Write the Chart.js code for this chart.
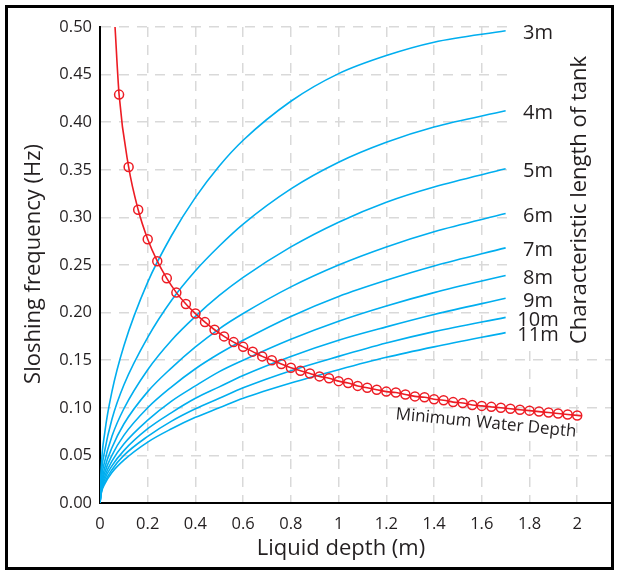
<!DOCTYPE html>
<html><head><meta charset="utf-8">
<script src="https://cdn.jsdelivr.net/npm/chart.js@4"></script>
<style>
html,body{margin:0;padding:0;background:#fff;}
#wrap{position:relative;width:618px;height:573px;overflow:hidden;}
#frame{position:absolute;left:5px;top:5px;width:603px;height:559px;border:3px solid #000;pointer-events:none;}
canvas{position:absolute;left:0;top:0;}
</style></head><body>
<div id="wrap"><canvas id="c" width="618" height="573"></canvas><div id="frame"></div></div>
<script>
// ---- data ----
const depth = [0, 0.005, 0.02, 0.05, 0.1, 0.2, 0.3, 0.4, 0.5, 0.6, 0.8, 1.0, 1.2, 1.4, 1.7];
const f3m  = [0, 0.037, 0.074, 0.117, 0.165, 0.232, 0.281, 0.321, 0.354, 0.381, 0.422, 0.451, 0.470, 0.484, 0.496];
const f4m  = [0, 0.028, 0.055, 0.088, 0.124, 0.174, 0.213, 0.244, 0.270, 0.293, 0.330, 0.358, 0.379, 0.395, 0.412];
const f5m  = [0, 0.022, 0.044, 0.070, 0.099, 0.140, 0.171, 0.196, 0.218, 0.237, 0.269, 0.295, 0.316, 0.332, 0.351];
const f6m  = [0, 0.018, 0.037, 0.058, 0.083, 0.117, 0.142, 0.164, 0.183, 0.199, 0.227, 0.250, 0.269, 0.285, 0.304];
const f7m  = [0, 0.016, 0.032, 0.050, 0.071, 0.100, 0.122, 0.141, 0.157, 0.171, 0.196, 0.217, 0.234, 0.249, 0.268];
const f8m  = [0, 0.014, 0.028, 0.044, 0.062, 0.087, 0.107, 0.123, 0.138, 0.150, 0.172, 0.191, 0.207, 0.221, 0.239];
const f9m  = [0, 0.012, 0.025, 0.039, 0.055, 0.078, 0.095, 0.110, 0.122, 0.134, 0.154, 0.171, 0.185, 0.198, 0.215];
const f10m = [0, 0.011, 0.022, 0.035, 0.050, 0.070, 0.086, 0.099, 0.110, 0.121, 0.139, 0.154, 0.168, 0.180, 0.195];
const f11m = [0, 0.010, 0.020, 0.032, 0.045, 0.064, 0.078, 0.090, 0.100, 0.110, 0.126, 0.140, 0.153, 0.164, 0.179];
const lengthLabels = ['3m','4m','5m','6m','7m','8m','9m','10m','11m'];
const lengthSeries = [f3m, f4m, f5m, f6m, f7m, f8m, f9m, f10m, f11m];

const minDepth = [0.063,0.08,0.12,0.16,0.20,0.24,0.28,0.32,0.36,0.40,0.44,0.48,0.52,0.56,0.60,0.64,0.68,0.72,0.76,0.80,0.84,0.88,0.92,0.96,1.00,1.04,1.08,1.12,1.16,1.20,1.24,1.28,1.32,1.36,1.40,1.44,1.48,1.52,1.56,1.60,1.64,1.68,1.72,1.76,1.80,1.84,1.88,1.92,1.96,2.00,2.02];
const minFreq  = [0.500,0.429,0.353,0.308,0.277,0.254,0.236,0.221,0.209,0.199,0.190,0.182,0.175,0.169,0.164,0.159,0.154,0.150,0.146,0.142,0.139,0.136,0.133,0.131,0.128,0.126,0.123,0.121,0.119,0.117,0.116,0.114,0.112,0.111,0.109,0.108,0.106,0.105,0.103,0.102,0.101,0.100,0.099,0.098,0.097,0.096,0.095,0.094,0.093,0.092,0.0915];
const minLabel = 'Minimum Water Depth';

const xTickValues = [0,0.2,0.4,0.6,0.8,1,1.2,1.4,1.6,1.8,2];
const xTickLabels = ['0','0.2','0.4','0.6','0.8','1','1.2','1.4','1.6','1.8','2'];
const yTickValues = [0,0.05,0.1,0.15,0.2,0.25,0.3,0.35,0.4,0.45,0.5];
const yTickLabels = ['0.00','0.05','0.10','0.15','0.20','0.25','0.30','0.35','0.40','0.45','0.50'];
const xTitle = 'Liquid depth (m)';
const yTitle = 'Sloshing frequency (Hz)';
const rightTitle = 'Characteristic length of tank';

// ---- styling ----
const BLUE = '#00aeef', RED = '#ed1c24', INK = '#231f20', GRID = '#d9d9d9';
const FONT = '"Open Sans", "Noto Sans", sans-serif';

const datasets = [{
  label: minLabel,
  data: minDepth.map((h,i)=>({x:h, y:minFreq[i]})),
  borderColor: RED, borderWidth: 1.6,
  pointRadius: minDepth.map((h,i)=> (i===0 || i===minDepth.length-1) ? 0 : 4.5),
  pointBorderColor: RED, pointBorderWidth: 1.5, pointBackgroundColor: 'rgba(0,0,0,0)',
  cubicInterpolationMode: 'monotone', fill: false
}];
lengthSeries.forEach((s, k) => datasets.push({
  label: lengthLabels[k],
  data: depth.map((h,i)=>({x:h, y:s[i]})),
  borderColor: BLUE, borderWidth: 1.6, pointRadius: 0,
  cubicInterpolationMode: 'monotone', fill: false
}));

const textPlugin = {
  id: 'texts',
  beforeDatasetsDraw(chart) {
    const {ctx, chartArea} = chart;
    ctx.save();
    ctx.fillStyle = '#fff';
    ctx.fillRect(509, chartArea.top - 3, chartArea.right - 509 + 2, 350 - chartArea.top + 3);
    ctx.restore();
  },
  afterDraw(chart) {
    const {ctx} = chart;
    const xs = chart.scales.x, ys = chart.scales.y;
    ctx.save();
    ctx.fillStyle = INK;
    // curve labels
    ctx.font = '20px ' + FONT;
    ctx.textAlign = 'center';
    ctx.textBaseline = 'alphabetic';
    lengthSeries.forEach((s, k) => {
      const y = ys.getPixelForValue(s[s.length-1]);
      ctx.fillText(lengthLabels[k], 538, y + 8.5);
    });
    // x title
    ctx.font = '22px ' + FONT;
    ctx.textBaseline = 'middle';
    ctx.fillText(xTitle, 341, 549);
    // y title
    ctx.save();
    ctx.translate(34, 264);
    ctx.rotate(-Math.PI/2);
    ctx.fillText(yTitle, 0, 0);
    ctx.restore();
    // right title
    ctx.save();
    ctx.translate(580, 200);
    ctx.rotate(-Math.PI/2);
    ctx.fillText(rightTitle, 0, 0);
    ctx.restore();
    // minimum water depth label
    ctx.save();
    ctx.font = '17px ' + FONT;
    ctx.translate(485.5, 428);
    ctx.rotate(0.097);
    ctx.textBaseline = 'alphabetic';
    ctx.fillText(minLabel, 0, 0);
    ctx.restore();
    ctx.restore();
  }
};

new Chart(document.getElementById('c'), {
  type: 'line',
  data: { datasets },
  options: {
    responsive: false, animation: false, devicePixelRatio: 1,
    layout: { padding: { left: 0, right: 5, top: 27, bottom: 0 } },
    plugins: { legend: { display: false }, tooltip: { enabled: false }, title: { display: false } },
    scales: {
      x: {
        type: 'linear', min: 0, max: 2.15,
        afterFit: s => { s.height = 70; },
        afterBuildTicks: s => { s.ticks = xTickValues.map(v => ({value: v})); },
        ticks: { includeBounds: false, padding: 11, color: INK, font: { family: FONT, size: 16.5 },
                 maxRotation: 0, autoSkip: false, callback: (v, i) => xTickLabels[i] },
        grid: { color: GRID, lineWidth: 1.5, drawTicks: false },
        border: { color: '#000', width: 2, dash: [10, 8] }
      },
      y: {
        type: 'linear', min: 0, max: 0.5,
        afterFit: s => { s.width = 100; },
        afterBuildTicks: s => { s.ticks = yTickValues.map(v => ({value: v})); },
        ticks: { includeBounds: false, padding: 8, color: INK, font: { family: FONT, size: 16.5 },
                 autoSkip: false, callback: (v, i) => yTickLabels[i] },
        grid: { color: GRID, lineWidth: 1.5, drawTicks: false },
        border: { color: '#000', width: 2, dash: [10, 8] }
      }
    }
  },
  plugins: [textPlugin]
});
</script>
</body></html>
